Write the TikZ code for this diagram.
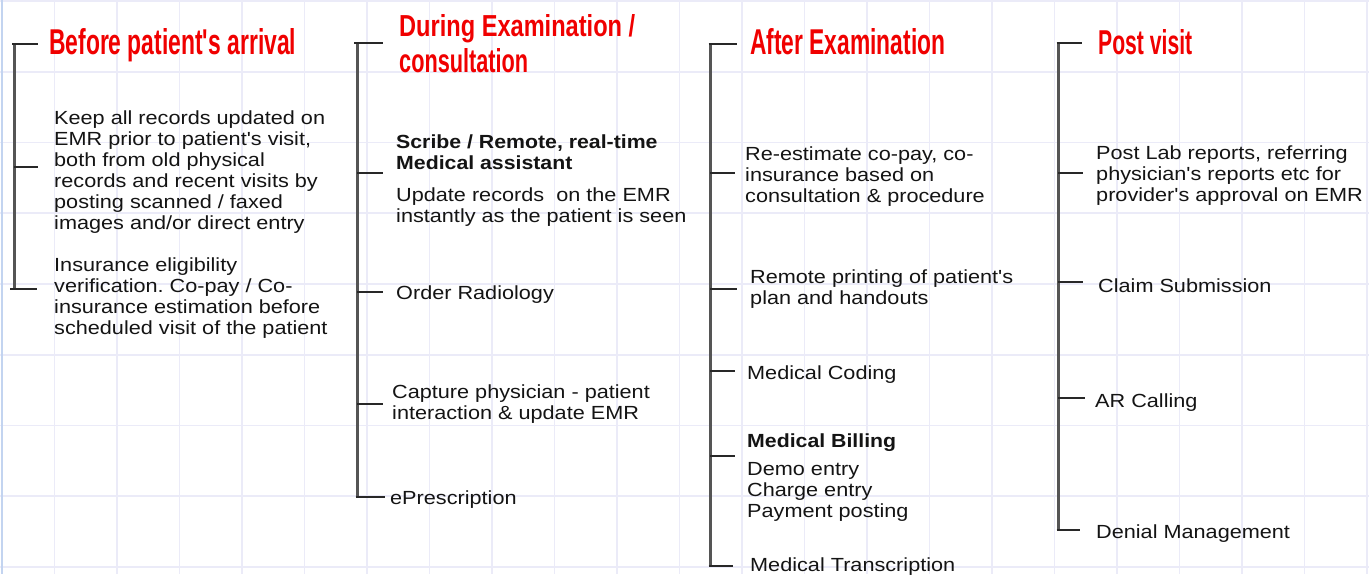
\documentclass[tikz,border=0pt]{standalone}
\usepackage{fontspec}
\usepackage{graphicx}
\newfontfamily\bodyfont{Liberation Sans}[FakeStretch=1.14,BoldFeatures={FakeStretch=1.12}]
\newfontfamily\titlefont{Liberation Sans}
\definecolor{gridc}{RGB}{235,235,248}
\definecolor{titlered}{RGB}{240,0,0}
\definecolor{spinec}{RGB}{85,85,85}
\definecolor{tickc}{RGB}{40,40,40}
\definecolor{edgeblue}{RGB}{195,212,240}
\definecolor{textc}{RGB}{20,20,20}
\newcommand{\ml}[1]{\begin{tabular}[t]{@{}l@{}}#1\end{tabular}}
\frenchspacing
\begin{document}
\begin{tikzpicture}[x=1pt,y=-1pt,
  gridline/.style={draw=gridc,line width=1.6pt},
  spine/.style={draw=spinec,line width=3pt},
  tick/.style={draw=tickc,line width=2pt},
  body/.style={anchor=base west,inner sep=0pt,text=textc,font=\bodyfont\fontsize{19}{21}\selectfont\frenchspacing},
  title/.style={anchor=base west,inner sep=0pt,text=titlered,font=\titlefont\bfseries}]
\fill[white] (0,0) rectangle (1369,574);
\useasboundingbox (0,0) rectangle (1369,574);
% grid
\foreach \i in {0,...,21} \draw[gridline] ({54.5+62.5*\i},0) -- ({54.5+62.5*\i},574);
\foreach \j in {0,...,8} \draw[gridline] (0,{1+70.75*\j}) -- (1369,{1+70.75*\j});
\draw[draw=edgeblue,line width=1.5pt] (2,0) -- (2,574);

% titles
\node[title] (t1) at (49,54.5) {\resizebox{247pt}{26pt}{Before patient's arrival}};
\node[title] (t2a) at (399,36) {\resizebox{236pt}{22pt}{During Examination /}};
\node[title] (t2b) at (399,72) {\resizebox{129pt}{24pt}{consultation}};
\node[title] (t3) at (750,54.5) {\resizebox{195pt}{26pt}{After Examination}};
\node[title] (t4) at (1098,54.5) {\resizebox{94pt}{25pt}{Post visit}};

% column 1 texts
\node[body] (k1) at (54,124) {\ml{Keep all records updated on\\EMR prior to patient's visit,\\both from old physical\\records and recent visits by\\posting scanned / faxed\\images and/or direct entry}};
\node[body] (k2) at (54,271) {\ml{Insurance eligibility\\verification. Co-pay / Co-\\insurance estimation before\\scheduled visit of the patient}};

% column 2 texts
\node[body] (d1) at (396,148) {\ml{\bfseries Scribe / Remote, real-time\\\bfseries Medical assistant\\[11pt]Update records~ on the EMR\\instantly as the patient is seen}};
\node[body] (d2) at (396,299) {Order Radiology};
\node[body] (d3) at (392,398) {\ml{Capture physician - patient\\interaction \& update EMR}};
\node[body] (d4) at (390,504) {ePrescription};

% column 3 texts
\node[body] (a1) at (745,160) {\ml{Re-estimate co-pay, co-\\insurance based on\\consultation \& procedure}};
\node[body] (a2) at (750,283) {\ml{Remote printing of patient's\\plan and handouts}};
\node[body] (a3) at (747,379) {Medical Coding};
\node[body] (a4) at (747,447) {\ml{\bfseries Medical Billing\\[7pt]Demo entry\\Charge entry\\Payment posting}};
\node[body] (a5) at (750,571) {Medical Transcription};

% column 4 texts
\node[body] (p1) at (1096,159) {\ml{Post Lab reports, referring\\physician's reports etc for\\provider's approval on EMR}};
\node[body] (p2) at (1098,292) {Claim Submission};
\node[body] (p3) at (1095,407) {AR Calling};
\node[body] (p4) at (1096,538) {Denial Management};

% spine coordinates
\coordinate (s1t) at (14,44);   \coordinate (s1b) at (14,289);
\coordinate (s2t) at (357,43);  \coordinate (s2b) at (357,497);
\coordinate (s3t) at (710,44);  \coordinate (s3b) at (710,566);
\coordinate (s4t) at (1058,43); \coordinate (s4b) at (1058,530);

\draw[spine] (s1t) -- (s1b);
\draw[spine] (s2t) -- (s2b);
\draw[spine] (s3t) -- (s3b);
\draw[spine] (s4t) -- (s4b);

% tick ends
\coordinate (e1a) at (38,44);  \coordinate (e1b) at (38,167);  \coordinate (e1c) at (37,289);
\coordinate (e2a) at (383,43); \coordinate (e2b) at (383,173); \coordinate (e2c) at (383,292);
\coordinate (e2d) at (383,404); \coordinate (e2e) at (385,497);
\coordinate (e3a) at (737,44); \coordinate (e3b) at (735,173); \coordinate (e3c) at (737,289);
\coordinate (e3d) at (735,371); \coordinate (e3e) at (735,456); \coordinate (e3f) at (733,566);
\coordinate (e4a) at (1082,43); \coordinate (e4b) at (1083,173); \coordinate (e4c) at (1083,282);
\coordinate (e4d) at (1085,398); \coordinate (e4e) at (1080,530);

\draw[tick] ([xshift=-2pt]s1t) -- (e1a);
\draw[tick] (s1t|-e1b) -- (e1b);
\draw[tick] ([xshift=-4pt]s1b) -- (e1c);
\draw[tick] ([xshift=-3pt]s2t) -- (e2a);
\draw[tick] (s2t|-e2b) -- (e2b);
\draw[tick] (s2t|-e2c) -- (e2c);
\draw[tick] (s2t|-e2d) -- (e2d);
\draw[tick] ([xshift=-1.5pt]s2b) -- (e2e);
\draw[tick] ([xshift=-1.5pt]s3t) -- (e3a);
\draw[tick] (s3t|-e3b) -- (e3b);
\draw[tick] (s3t|-e3c) -- (e3c);
\draw[tick] (s3t|-e3d) -- (e3d);
\draw[tick] (s3t|-e3e) -- (e3e);
\draw[tick] ([xshift=-1.5pt]s3b) -- (e3f);
\draw[tick] ([xshift=-1.5pt]s4t) -- (e4a);
\draw[tick] (s4t|-e4b) -- (e4b);
\draw[tick] (s4t|-e4c) -- (e4c);
\draw[tick] (s4t|-e4d) -- (e4d);
\draw[tick] ([xshift=-1.5pt]s4b) -- (e4e);
\end{tikzpicture}
\end{document}
